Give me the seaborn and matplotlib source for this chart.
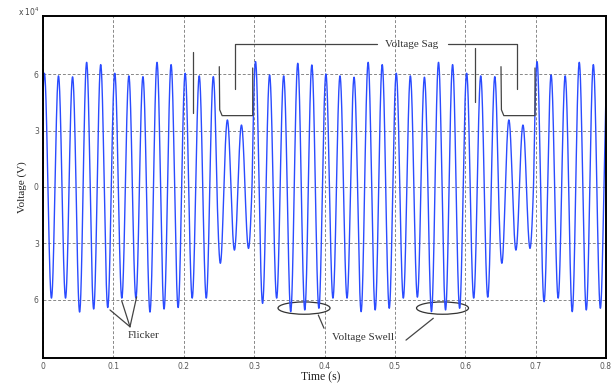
import numpy as np
import pandas as pd
import matplotlib
matplotlib.use("Agg")
import matplotlib.pyplot as plt
import seaborn as sns
from matplotlib.patches import Ellipse

# ---- data (voltage in units of 1e4 V) ----
# positive peak of each cycle (cycle k peaks at t0 + 0.02 k)
positive_peaks = [
    6.04, 5.90, 5.85, 6.62, 6.50, 6.04, 5.90, 5.86, 6.62, 6.50,
    6.04, 5.90, 5.86, 3.56, 3.29, 6.66, 5.95, 5.90, 6.57, 6.48,
    6.00, 5.90, 5.83, 6.62, 6.50, 6.04, 5.90, 5.83, 6.62, 6.50,
    6.04, 5.90, 5.86, 3.56, 3.29, 6.66, 5.95, 5.90, 6.62, 6.50,
    6.04,
]
# negative trough of each cycle (cycle k troughs at t0 + 0.02 k + 0.01)
negative_peaks = [
    -5.90, -5.90, -6.64, -6.48, -6.40, -5.90, -5.90, -6.64, -6.48, -6.40,
    -5.90, -5.90, -4.05, -3.35, -3.26, -6.18, -5.90, -6.62, -6.53, -6.44,
    -5.90, -5.90, -6.62, -6.53, -6.44, -5.90, -5.85, -6.62, -6.53, -6.44,
    -5.90, -5.85, -4.05, -3.35, -3.26, -6.09, -5.90, -6.62, -6.53, -6.44,
]
line_freq = 50.0       # Hz
first_peak_time = 0.002  # s

x_ticks = [0, 0.1, 0.2, 0.3, 0.4, 0.5, 0.6, 0.7, 0.8]
x_tick_labels = ["0", "0.1", "0.2", "0.3", "0.4", "0.5", "0.6", "0.7", "0.8"]
y_ticks = [-6, -3, 0, 3, 6]
y_tick_labels = ["6", "3", "0", "3", "6"]

# ---- build the waveform from the read extremes ----
extremes = []
for k in range(len(positive_peaks)):
    extremes.append(abs(positive_peaks[k]))
    if k < len(negative_peaks):
        extremes.append(abs(negative_peaks[k]))
extremes = np.array(extremes)

t = np.linspace(0, 0.8, 8001)
phase = (t - first_peak_time) * line_freq
idx = np.clip(np.rint(phase * 2).astype(int), 0, len(extremes) - 1)
v = extremes[idx] * np.cos(2 * np.pi * phase)
df = pd.DataFrame({"Time": t, "Voltage": v})

# ---- figure ----
sns.set_style("white")
plt.rcParams["font.family"] = ["DejaVu Sans"]
serif = ["Liberation Serif", "DejaVu Serif"]

fig = plt.figure(figsize=(6.16, 3.85), dpi=100)
ax = fig.add_axes([43 / 616, 1 - 358 / 385, 563 / 616, 342 / 385])

sns.lineplot(data=df, x="Time", y="Voltage", estimator=None, sort=False,
             color="#2a4bff", lw=1.0, ax=ax)

ax.set_xlim(0, 0.8)
ax.set_ylim(-9.08, 9.08)
ax.set_xticks(x_ticks)
ax.set_xticklabels(x_tick_labels)
ax.set_yticks(y_ticks)
ax.set_yticklabels(y_tick_labels)
ax.tick_params(direction="in", length=3, width=0.8, labelsize=5.5,
               labelcolor="#555555", pad=3)
ax.grid(True, color="#888888", linestyle=(0, (3, 2)), linewidth=0.7)
for s in ax.spines.values():
    s.set_color("black")
    s.set_linewidth(1.4)

ax.set_xlabel("Time (s)", family=serif, fontsize=8.5, color="#222222")
ax.set_ylabel("Voltage (V)", family=serif, fontsize=8, color="#222222")
ax.xaxis.set_label_coords(0.493, -0.038)
ax.yaxis.set_label_coords(-0.028, 0.5)

fig.text(18 / 616, 1 - 12 / 385, "x 10$^4$", fontsize=5.5, color="#444444",
         ha="left", va="center")

lc = "#444444"
lw = 0.9
# Voltage Sag label + leaders
ax.plot([0.2728, 0.2728, 0.4742], [5.20, 7.59, 7.59], color=lc, lw=lw)
ax.plot([0.5755, 0.6735, 0.6735], [7.59, 7.59, 5.20], color=lc, lw=lw)
ax.text(0.5243, 7.59, "Voltage Sag", family=serif, fontsize=8, color="#333333",
        ha="center", va="center")
# sag markers and U brackets
ax.plot([0.2131, 0.2131], [7.19, 3.93], color=lc, lw=lw)
ax.plot([0.6139, 0.6139], [7.37, 4.53], color=lc, lw=lw)
ax.plot([0.2505, 0.2511, 0.2545, 0.2980, 0.2980], [6.39, 4.10, 3.79, 3.79, 6.32],
        color=lc, lw=lw)
ax.plot([0.6508, 0.6514, 0.6548, 0.6991, 0.6991], [6.39, 4.10, 3.79, 3.79, 6.32],
        color=lc, lw=lw)

# Voltage Swell ellipses + leaders
for cx in (0.3709, 0.5677):
    ax.add_patch(Ellipse((cx, -6.43), 0.0739, 0.653, fill=False,
                         edgecolor="#333333", lw=0.9))
ax.plot([0.3912, 0.3993], [-6.80, -7.50], color=lc, lw=lw)
ax.plot([0.5546, 0.5158], [-6.97, -8.13], color=lc, lw=lw)
ax.text(0.4547, -7.97, "Voltage Swell", family=serif, fontsize=8,
        color="#333333", ha="center", va="center")

# Flicker leaders
for ex, ey in [(0.0952, -6.53), (0.1118, -6.04), (0.1331, -5.83)]:
    ax.plot([0.1236, ex], [-7.42, ey], color=lc, lw=lw)
ax.text(0.1435, -7.91, "Flicker", family=serif, fontsize=8, color="#333333",
        ha="center", va="center")

fig.savefig("out.png", dpi=100)
